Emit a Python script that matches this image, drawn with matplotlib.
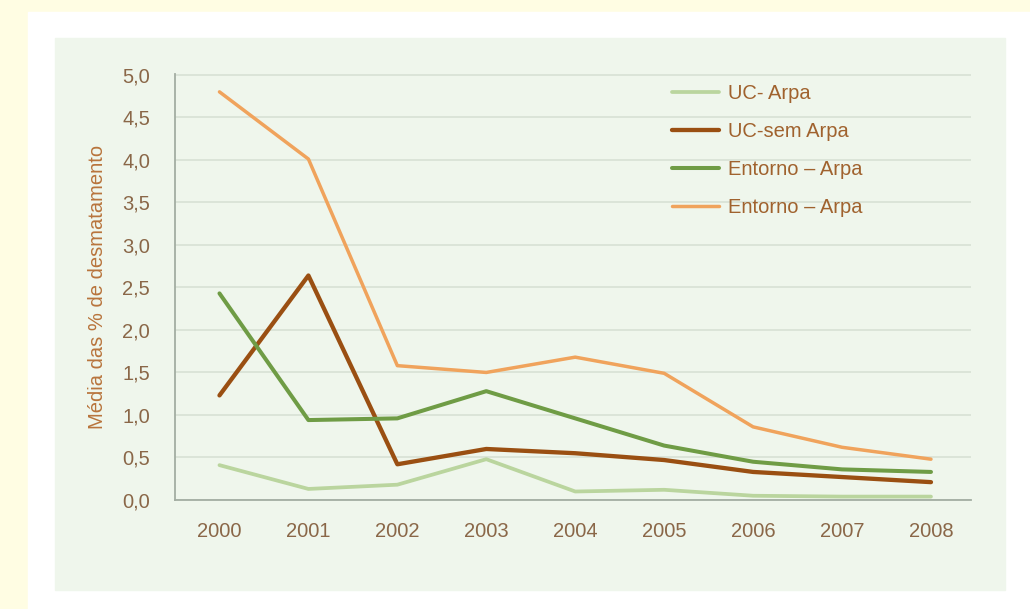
import matplotlib
matplotlib.use("Agg")
import matplotlib.pyplot as plt
from matplotlib.patches import Rectangle
from matplotlib.ticker import FuncFormatter

years = [2000, 2001, 2002, 2003, 2004, 2005, 2006, 2007, 2008]
uc_arpa = [0.41, 0.13, 0.18, 0.48, 0.10, 0.12, 0.05, 0.04, 0.04]
uc_sem_arpa = [1.23, 2.64, 0.42, 0.60, 0.55, 0.47, 0.33, 0.27, 0.21]
entorno_arpa = [2.43, 0.94, 0.96, 1.28, 0.96, 0.64, 0.45, 0.36, 0.33]
entorno_arpa2 = [4.80, 4.01, 1.58, 1.50, 1.68, 1.49, 0.86, 0.62, 0.48]
labels = ["UC- Arpa", "UC-sem Arpa", "Entorno \u2013 Arpa", "Entorno \u2013 Arpa"]
yticks = [0.0, 0.5, 1.0, 1.5, 2.0, 2.5, 3.0, 3.5, 4.0, 4.5, 5.0]

plt.rcParams["font.family"] = ["Liberation Sans", "DejaVu Sans"]
W, H = 1030, 609
fig = plt.figure(figsize=(W / 100, H / 100), dpi=100, facecolor="#fffde3")

# white card and light green panel behind the chart
fig.patches.append(Rectangle((28 / W, 0), 1 - 28 / W, (H - 12) / H,
                             transform=fig.transFigure, color="white", zorder=-2))
fig.patches.append(Rectangle((55 / W, (H - 590) / H), (1005 - 55) / W, (590 - 38) / H,
                             transform=fig.transFigure, color="#eff6ec", zorder=-1))

ax = fig.add_axes([175 / W, (H - 500) / H, (971 - 175) / W, (500 - 74) / H])
ax.set_facecolor("none")

series = [uc_arpa, uc_sem_arpa, entorno_arpa, entorno_arpa2]
colors = ["#bad59e", "#9a4f12", "#6f9c45", "#f0a35c"]
widths = [2.7, 3.1, 2.9, 2.5]
for vals, c, lw, lab in zip(series, colors, widths, labels):
    ax.plot(years, vals, color=c, lw=lw, label=lab, solid_capstyle="round",
            solid_joinstyle="round")

ax.set_xlim(1999.5, 2008.45)
ax.set_ylim(0, 5.01)
ax.set_xticks(years)
ax.set_yticks(yticks)
ax.yaxis.set_major_formatter(FuncFormatter(lambda v, p: f"{v:.1f}".replace(".", ",")))
ax.grid(axis="y", color="#d6dfd3", lw=1.1)
ax.set_axisbelow(True)
for s in ["top", "right"]:
    ax.spines[s].set_visible(False)
for s in ["left", "bottom"]:
    ax.spines[s].set_color("#a3ada2")
    ax.spines[s].set_linewidth(1.3)

tick_color = "#8a6748"
ax.tick_params(axis="both", length=0, labelsize=14.5, labelcolor=tick_color)
ax.tick_params(axis="y", pad=18)
ax.tick_params(axis="x", pad=16)

ax.set_ylabel("M\u00e9dia das % de desmatamento", fontsize=14.5, color="#b8743c",
              labelpad=11)

leg = ax.legend(loc="upper left", bbox_to_anchor=((662 - 175) / (971 - 175), 1.0),
                frameon=False, fontsize=14.5, handlelength=2.33, handletextpad=0.45,
                labelspacing=0.95, borderaxespad=0.1)
for t in leg.get_texts():
    t.set_color("#a0622e")

fig.savefig("out.png", dpi=100, facecolor=fig.get_facecolor())
